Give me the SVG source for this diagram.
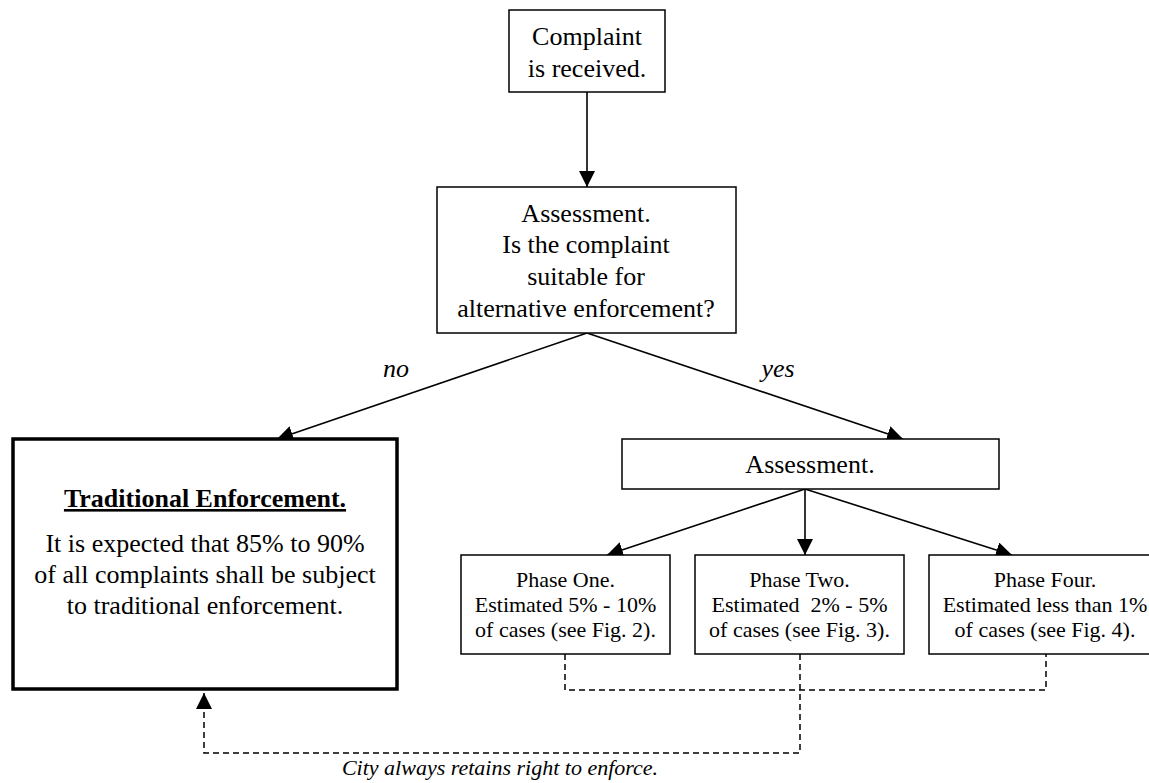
<svg xmlns="http://www.w3.org/2000/svg" width="1149" height="783" viewBox="0 0 1149 783">
<style>
text{font-family:"Liberation Serif","Times New Roman",serif;fill:#000;text-anchor:middle}
.big{font-size:26px}
.small{font-size:22px}
.it{font-style:italic}
.box{fill:#fff;stroke:#000;stroke-width:1.5}
.thick{fill:#fff;stroke:#000;stroke-width:3.5}
.con{fill:none;stroke:#000;stroke-width:1.6}
.dash{fill:none;stroke:#000;stroke-width:1.5;stroke-dasharray:6 4}
</style>
<defs>
<marker id="ah" viewBox="0 0 16 16" refX="16" refY="8" markerWidth="16" markerHeight="16" markerUnits="userSpaceOnUse" orient="auto">
<path d="M0,0 L16,8 L0,16 z" fill="#000"/>
</marker>
</defs>
<g id="connectors">
<line class="con" x1="587" y1="92" x2="587" y2="187" marker-end="url(#ah)"/>
<line class="con" x1="587" y1="333" x2="277" y2="439" marker-end="url(#ah)"/>
<line class="con" x1="587" y1="333" x2="903" y2="439" marker-end="url(#ah)"/>
<line class="con" x1="805" y1="489" x2="607" y2="555" marker-end="url(#ah)"/>
<line class="con" x1="805" y1="489" x2="805" y2="555" marker-end="url(#ah)"/>
<line class="con" x1="805" y1="489" x2="1012" y2="555" marker-end="url(#ah)"/>
<polyline class="dash" points="565,654 565,690 1046,690 1046,654"/>
<polyline class="dash" points="800,654 800,753 204,753 204,693" marker-end="url(#ah)"/>
<text class="big it" x="396" y="377">no</text>
<text class="big it" x="778" y="377">yes</text>
<text class="small it" x="500" y="775">City always retains right to enforce.</text>
</g>
<g id="complaint">
<rect class="box" x="509" y="10" width="156" height="82"/>
<text class="big" x="587" y="45">Complaint</text>
<text class="big" x="587" y="77">is received.</text>
</g>
<g id="assessment1">
<rect class="box" x="437" y="187" width="299" height="146"/>
<text class="big" x="586" y="222">Assessment.</text>
<text class="big" x="586" y="253">Is the complaint</text>
<text class="big" x="586" y="285">suitable for</text>
<text class="big" x="586" y="317">alternative enforcement?</text>
</g>
<g id="traditional">
<rect class="thick" x="13" y="439" width="384" height="250"/>
<text class="big" x="205" y="507" font-weight="bold" text-decoration="underline">Traditional Enforcement.</text>
<text class="big" x="205" y="552">It is expected that 85% to 90%</text>
<text class="big" x="205" y="583">of all complaints shall be subject</text>
<text class="big" x="205" y="614">to traditional enforcement.</text>
</g>
<g id="assessment2">
<rect class="box" x="622" y="439" width="377" height="50"/>
<text class="big" x="810" y="473">Assessment.</text>
</g>
<g id="phase1">
<rect class="box" x="461" y="555" width="209" height="99"/>
<text class="small" x="565.5" y="587">Phase One.</text>
<text class="small" x="565.5" y="612">Estimated 5% - 10%</text>
<text class="small" x="565.5" y="637">of cases (see Fig. 2).</text>
</g>
<g id="phase2">
<rect class="box" x="695" y="555" width="209" height="99"/>
<text class="small" x="799.5" y="587">Phase Two.</text>
<text class="small" x="799.5" y="612" xml:space="preserve">Estimated  2% - 5%</text>
<text class="small" x="799.5" y="637">of cases (see Fig. 3).</text>
</g>
<g id="phase4">
<rect class="box" x="929" y="555" width="232" height="99"/>
<text class="small" x="1045" y="587">Phase Four.</text>
<text class="small" x="1045" y="612">Estimated less than 1%</text>
<text class="small" x="1045" y="637">of cases (see Fig. 4).</text>
</g>
</svg>
